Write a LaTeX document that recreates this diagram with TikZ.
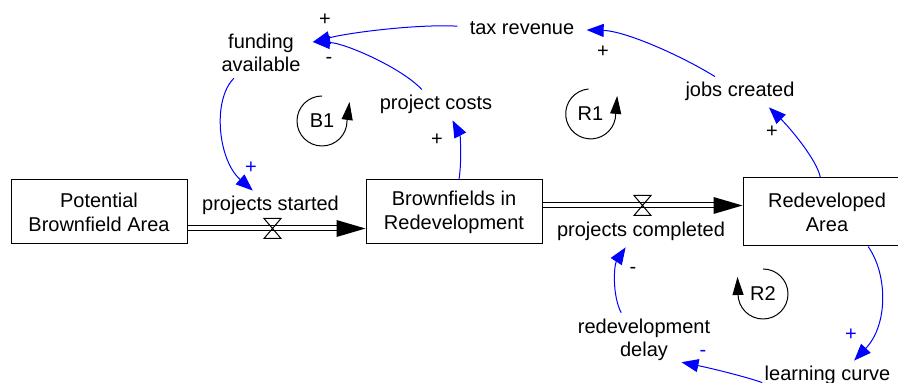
\documentclass[tikz,border=0pt]{standalone}
\usepackage{fontspec}
\setmainfont{Liberation Sans}
\usetikzlibrary{arrows.meta}

\tikzset{
  stock/.style={draw=black, line width=0.5pt, inner sep=0pt, align=center,
    font=\fontsize{10}{12}\selectfont},
  var/.style={inner xsep=6pt, inner ysep=3pt, text height=7pt, text depth=2pt,
    font=\fontsize{10}{11.5}\selectfont},
  var2/.style={inner xsep=6pt, inner ysep=3pt, align=center,
    font=\fontsize{10}{11.5}\selectfont},
  sign/.style={inner sep=0pt, font=\fontsize{10}{11.5}\selectfont},
  link/.style={draw=blue, line width=0.5pt, -{Triangle[length=8.5pt,width=6.5pt]}, fill=none},
  pipe/.style={draw=black, line width=0.5pt, double=white, double distance=2pt},
  valve/.style={draw=black, line width=0.5pt, line join=miter},
  loopline/.style={draw=black, line width=0.5pt, -{Triangle[length=9pt,width=5.5pt]}},
  looptext/.style={inner sep=0pt, font=\fontsize{10}{11.5}\selectfont}
}

\begin{document}
\begin{tikzpicture}[x=0.5pt, y=0.5pt]
  \useasboundingbox (0,0) rectangle (898,383);
  \fill[white] (0,0) rectangle (898,383);

  % stocks
  \node[stock, minimum width=88pt, minimum height=32pt] (pba) at (99,171)
    {Potential\\Brownfield Area};
  \node[stock, minimum width=88pt, minimum height=32pt] (brd) at (454,171)
    {Brownfields in\\Redevelopment};
  \node[stock, minimum width=84pt, minimum height=34pt] (rda) at (827,171)
    {Redeveloped\\Area};

  % valves on the flows
  \coordinate (v1) at (272.5,154.5);
  \coordinate (v2) at (642.5,177.5);

  % auxiliary variables and flow names
  \node[var2] (fund) at (261,330) {funding\\available};
  \node[var] (tax) at (522,353) {tax revenue};
  \node[var] (cost) at (436,278) {project costs};
  \node[var] (jobs) at (740,291) {jobs created};
  \node[var] (pstart) at (270.5,177) {projects started};
  \node[var] (pcomp) at (641,151) {projects completed};
  \node[var2] (delay) at (644,43) {redevelopment\\delay};
  \node[var] (learn) at (827.5,7) {learning curve};

  % flow pipes
  \draw[pipe, shorten >=12pt] (pba.east |- v1) -- (brd.west |- v1);
  \fill[black] (brd.west |- v1) -- ++(-29,8.5) -- ++(0,-17) -- cycle;
  \draw[valve] (v1) -- ++(-8.5,10) -- ++(17,0) -- cycle
               (v1) -- ++(-8.5,-10) -- ++(17,0) -- cycle;

  \draw[pipe, shorten >=12pt] (brd.east |- v2) -- (rda.west |- v2);
  \fill[black] (rda.west |- v2) -- ++(-29,8.5) -- ++(0,-17) -- cycle;
  \draw[valve] (v2) -- ++(-8.5,10) -- ++(17,0) -- cycle
               (v2) -- ++(-8.5,-10) -- ++(17,0) -- cycle;

  % causal links
  \draw[link] (tax) .. controls (420,359) and (352,351) .. (fund.12);
  \draw[link] (cost) .. controls (402,315) and (345,340) .. (fund.12);
  \draw[link] (jobs) .. controls (680,328) and (625,352) .. (tax.east);
  \draw[link] (rda) .. controls (817,223) and (790,255) .. (jobs.-28);
  \draw[link] (brd) .. controls (462,223) and (460,248) .. (cost.-43);
  \draw[link] (fund.223) .. controls (212,283) and (218,223) .. (pstart.139);
  \draw[link] (rda.-40) .. controls (888,108) and (888,58) .. (learn.30);
  \draw[link] ([xshift=5pt]learn.185) .. controls (740,8) and (705,16) .. ([yshift=2.5pt]delay.-36);
  \draw[link] (delay.130) .. controls (612,88) and (614,118) .. (pcomp.225);

  % link polarities
  \node[sign] (s1) at (325,363) {+};
  \node[sign] (s2) at (329,323) {-};
  \node[sign] (s3) at (603,331) {+};
  \node[sign] (s4) at (772,251) {+};
  \node[sign] (s5) at (437,243) {+};
  \node[sign, text=blue] (s6) at (251,215) {+};
  \node[sign, text=blue] (s7) at (851,48) {+};
  \node[sign, text=blue] (s8) at (703,30) {-};
  \node[sign] (s9) at (633,113) {-};

  % feedback loop markers
  \node[looptext] (b1) at (322,262) {B1};
  \draw[loopline] (b1.center) ++(0,25) arc[start angle=90, end angle=360, radius=12.5pt] -- ++(2.5,19);
  \node[looptext] (r1) at (590.5,269) {R1};
  \draw[loopline] (r1.center) ++(-2,25) arc[start angle=95, end angle=360, radius=12.5pt] -- ++(1.5,18);
  \node[looptext] (r2) at (763,89) {R2};
  \draw[loopline] (r2.center) ++(0,25) arc[start angle=90, end angle=-180, radius=12.5pt] -- ++(-0.5,17);
\end{tikzpicture}
\end{document}
